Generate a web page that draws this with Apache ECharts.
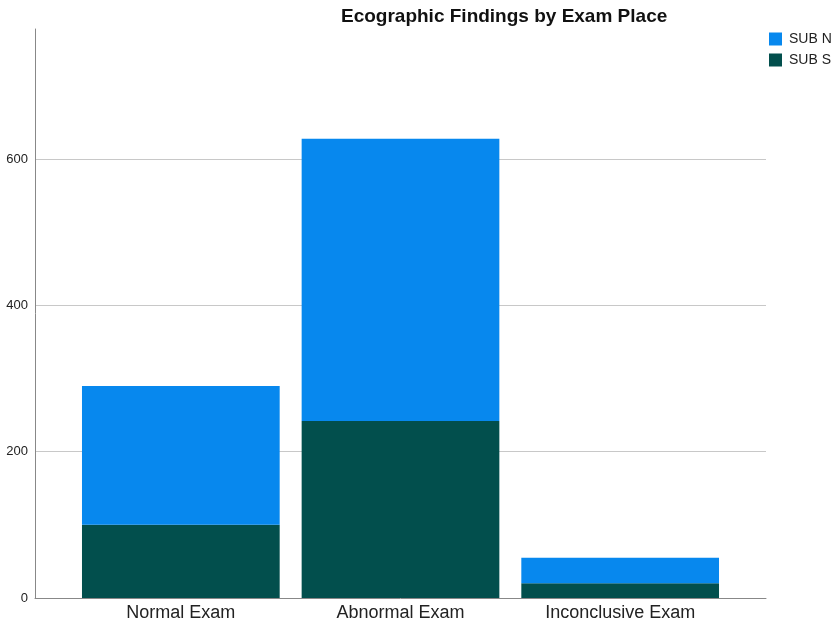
<!DOCTYPE html>
<html>
<head>
<meta charset="utf-8">
<script src="https://cdn.jsdelivr.net/npm/echarts@6/dist/echarts.min.js"></script>
<style>html,body{margin:0;padding:0;background:#fff;}#c{width:839px;height:625px;}</style>
</head>
<body>
<div id="c"></div>
<script>
var categories = ['Normal Exam', 'Abnormal Exam', 'Inconclusive Exam'];
var subS = [100, 242, 20];
var subN = [190, 386, 35];
var yTicks = [0, 200, 400, 600];
var yMax = 778;

var font = 'Liberation Sans, Arial, sans-serif';
var chart = echarts.init(document.getElementById('c'));
chart.setOption({
  animation: false,
  backgroundColor: '#fff',
  textStyle: { fontFamily: font },
  title: {
    text: 'Ecographic Findings by Exam Place',
    left: 341, top: 7, padding: 0,
    textStyle: { fontSize: 19, fontWeight: 'bold', color: '#111', fontFamily: font }
  },
  legend: {
    orient: 'vertical', left: 769, top: 32, padding: 0,
    itemWidth: 13, itemHeight: 13, itemGap: 7,
    icon: 'rect',
    data: ['SUB N', 'SUB S'],
    textStyle: { fontSize: 14, color: '#222', fontFamily: font, padding: [0, 0, 0, 2] }
  },
  grid: [
    { left: 35, right: 73, top: 29, bottom: 27 },
    { left: 71, right: 109, top: 29, bottom: 27 }
  ],
  xAxis: [
    { gridIndex: 0, type: 'value', min: 0, max: 1,
      axisLine: { show: true, lineStyle: { color: '#888', width: 1 } },
      axisTick: { show: false }, axisLabel: { show: false }, splitLine: { show: false } },
    { gridIndex: 1, type: 'category', data: categories,
      axisLine: { show: false }, axisTick: { show: false },
      axisLabel: { fontSize: 18, color: '#222', margin: 6, fontFamily: font } }
  ],
  yAxis: [
    { gridIndex: 0, type: 'value', min: 0, max: yMax, interval: 200,
      axisLine: { show: true, lineStyle: { color: '#888', width: 1 } },
      axisTick: { show: false },
      axisLabel: { fontSize: 13, color: '#222', margin: 7, showMaxLabel: false, fontFamily: font,
        formatter: function (v) { return yTicks.indexOf(v) >= 0 ? String(v) : ''; } },
      splitLine: { show: true, showMinLine: false, showMaxLine: false, lineStyle: { color: '#c8c8c8', width: 1 } } },
    { gridIndex: 1, type: 'value', min: 0, max: yMax, interval: 200, show: false }
  ],
  series: [
    { name: 'SUB S', type: 'bar', stack: 'total', xAxisIndex: 1, yAxisIndex: 1,
      data: subS, barCategoryGap: '10%', itemStyle: { color: '#024f4d' } },
    { name: 'SUB N', type: 'bar', stack: 'total', xAxisIndex: 1, yAxisIndex: 1,
      data: subN, barCategoryGap: '10%', itemStyle: { color: '#0788ee' } }
  ]
});
</script>
</body>
</html>
